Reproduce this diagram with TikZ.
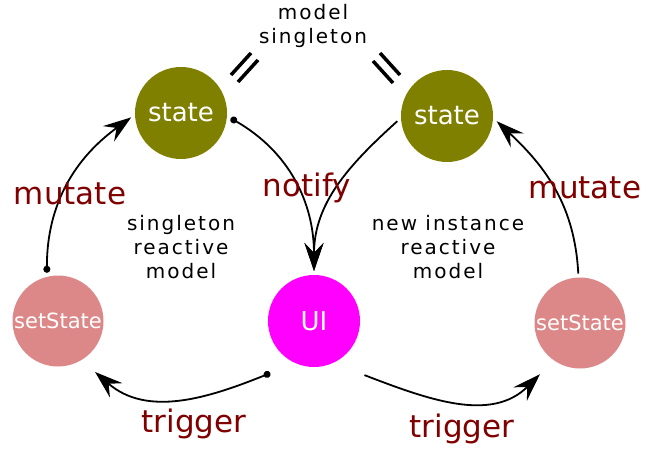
\documentclass[tikz,border=0pt]{standalone}
\usepackage{fontspec}
\setmainfont{DejaVu Sans}
\newfontfamily\spacedfont{DejaVu Sans}[LetterSpace=10]
\usetikzlibrary{arrows.meta}

\definecolor{stateolive}{RGB}{128,128,0}
\definecolor{setpink}{RGB}{221,136,136}
\definecolor{uimagenta}{RGB}{255,0,255}
\definecolor{verbred}{RGB}{128,0,0}

\begin{document}
\begin{tikzpicture}[
        x=1pt, y=1pt,
        blob/.style={circle, minimum size=92pt, inner sep=0, outer sep=4pt,
            text=white, font=\fontsize{26}{30}\selectfont},
        statenode/.style={blob, fill=stateolive},
        uinode/.style={blob, fill=uimagenta},
        setnode/.style={blob, minimum size=91pt, fill=setpink,
            font=\fontsize{21}{25}\selectfont},
        verb/.style={inner sep=0, text=verbred, font=\fontsize{31}{36}\selectfont},
        note/.style={inner sep=0, align=center,
            font=\spacedfont\fontsize{20}{24}\selectfont},
        link/.style={line width=1.8pt, -{Stealth[length=28pt, width=19pt, inset=10pt]}},
        dotlink/.style={link, {Circle[length=7pt]}-{Stealth[length=28pt, width=19pt, inset=10pt]}},
        equalbar/.style={line width=3.5pt},
    ]
    \useasboundingbox (0,0) rectangle (657,467);

    % Define nodes.
    \node[statenode] (state1) at (181,354) {state};
    \node[statenode] (state2) at (447,351) {state};
    \node[uinode]    (ui)     at (314,146) {UI};
    \node[setnode]   (set1)   at (58,146)  {setState};
    \node[setnode]   (set2)   at (580,144) {setState};

    % Notes.
    \node[note] (top)   at (313,441) {model\\singleton};
    \node[note] (left)  at (181,220) {singleton\\reactive\\model};
    \node[note] (right) at (448,220) {new instance\\reactive\\model};

    % Equal marks.
    \foreach \x/\y in {231/392, 238/385}
        \draw[equalbar] (\x,\y) -- ++(20,22);
    \foreach \x/\y in {373/406, 380/414}
        \draw[equalbar] (\x,\y) -- ++(20,-22);

    % Connectors.
    \draw[dotlink] (set1.103) to[out=90, in=216] (state1.185);
    \draw[dotlink] (state1.354) to[out=-30, in=90] (ui.90);
    \draw[link] (state2.186) to[out=222, in=90] (ui.90);
    \draw[link] (set2.92) to[out=93, in=317] (state2.354);
    \draw[dotlink] ([shift={(230:68)}]ui.center) to[out=202, in=319]
        ([shift={(306:63)}]set1.center);
    \draw[link] ([shift={(313:74)}]ui.center) to[out=-21, in=225]
        ([shift={(232:65)}]set2.center);

    % Labels.
    \node[verb] (mutate1)  at (70,273)  {mutate};
    \node[verb] (notify)   at (307,279) {notify};
    \node[verb] (mutate2)  at (585,279) {mutate};
    \node[verb] (trigger1) at (194,43)  {trigger};
    \node[verb] (trigger2) at (462,38)  {trigger};
\end{tikzpicture}
\end{document}
